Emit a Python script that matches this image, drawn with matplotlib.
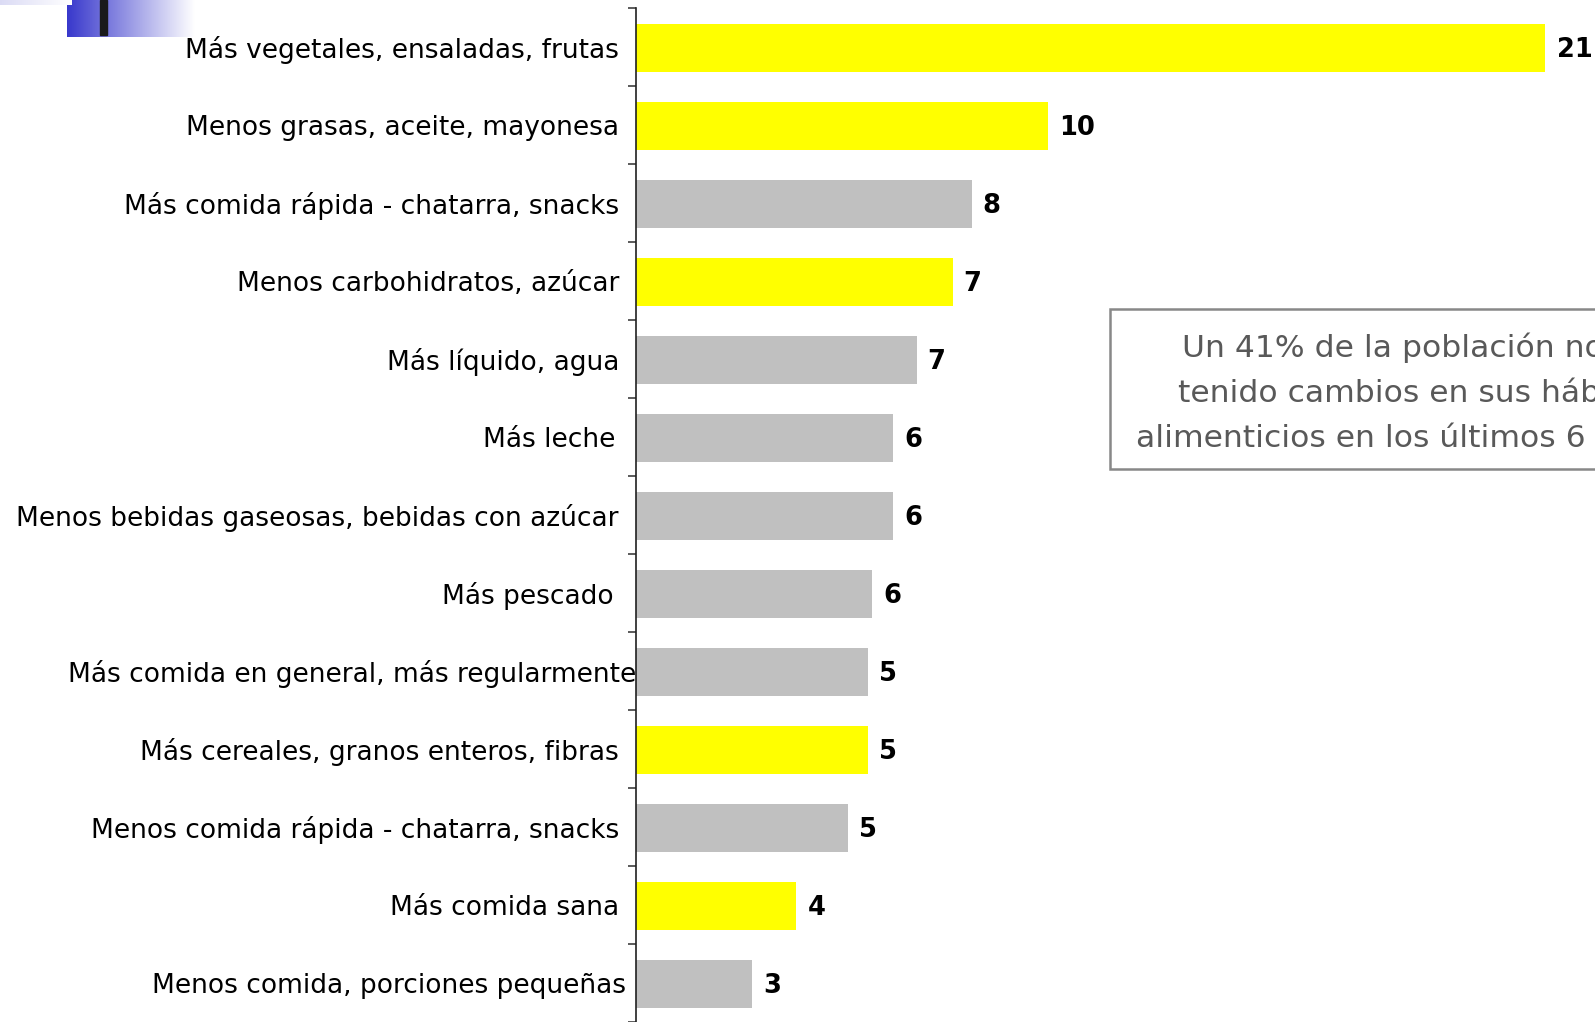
import numpy as np
import matplotlib
matplotlib.use('Agg')
import matplotlib.pyplot as plt
from matplotlib.patches import Rectangle
from matplotlib.transforms import blended_transform_factory, offset_copy

# datos (de arriba hacia abajo)
categorias = ['Más vegetales, ensaladas, frutas',
              'Menos grasas, aceite, mayonesa',
              'Más comida rápida - chatarra, snacks',
              'Menos carbohidratos, azúcar',
              'Más líquido, agua',
              'Más leche',
              'Menos bebidas gaseosas, bebidas con azúcar',
              'Más pescado',
              'Más comida en general, más regularmente',
              'Más cereales, granos enteros, fibras',
              'Menos comida rápida - chatarra, snacks',
              'Más comida sana',
              'Menos comida, porciones pequeñas']
valores = [21.4, 9.7, 7.9, 7.45, 6.6, 6.05, 6.05, 5.55, 5.45, 5.45, 4.98, 3.77, 2.73]
etiquetas = ['21', '10', '8', '7', '7', '6', '6', '6', '5', '5', '5', '4', '3']
destacados = [True, True, False, True, False, False, False, False, False, True, False, True, False]

texto_caja = ('Un 41% de la población no ha\n'
              'tenido cambios en sus hábitos\n'
              'alimenticios en los últimos 6 meses')

AMARILLO = '#FFFF00'
GRIS = '#C0C0C0'

plt.rcParams['font.family'] = ['DejaVu Sans']

W, H = 1595, 1022
fig = plt.figure(figsize=(W / 100, H / 100), dpi=100)

ax = fig.add_axes([636 / W, 0, 1 - 636 / W, 1 - 8 / H])
y = np.arange(len(categorias))
colores = [AMARILLO if d else GRIS for d in destacados]
ax.barh(y + 0.015, valores, height=0.61, color=colores, edgecolor='none')

ax.set_xlim(0, 959 / 42.5)
ax.set_ylim(len(categorias) - 0.55, -0.5)

for s in ['top', 'right', 'bottom']:
    ax.spines[s].set_visible(False)
ax.spines['left'].set_color('#202020')
ax.spines['left'].set_linewidth(1.2)
ax.set_xticks([])
ax.set_yticks(np.arange(-0.5, len(categorias), 1))
ax.set_yticklabels([])
ax.tick_params(axis='y', direction='out', length=5.5, width=1.2, color='#404040')

# etiquetas de categoria (separacion en px respecto al eje)
sep = {8: 0, 12: 10, 5: 21, 7: 22}
trans = blended_transform_factory(ax.transAxes, ax.transData)
for i, cat in enumerate(categorias):
    d = sep.get(i, 17)
    t = offset_copy(trans, fig=fig, x=-d, y=-3, units='dots')
    ax.text(0, i, cat, transform=t, ha='right', va='center',
            fontsize=19, color='black')

# valores
for i, (v, e) in enumerate(zip(valores, etiquetas)):
    ax.annotate(e, (v, i), xytext=(8, -2), textcoords='offset points',
                ha='left', va='center', fontsize=18.5, fontweight='bold',
                color='black')

# caja de texto
fig.patches.append(Rectangle((1110 / W, 1 - 469 / H), 600 / W, 160 / H,
                             transform=fig.transFigure, facecolor='white',
                             edgecolor='#888888', linewidth=1.8))
fig.text(1417 / W, 1 - 393 / H, texto_caja, ha='center', va='center',
         fontsize=22.6, color='#595959', linespacing=1.7)

# adorno superior izquierdo
grad = np.linspace(0, 1, 256)
azul = np.array([0.22, 0.22, 0.80])
img = azul[None, :] * (1 - grad[:, None]) + grad[:, None]
deco = fig.add_axes([67 / W, 1 - 37 / H, (195 - 67) / W, 37 / H])
deco.imshow(img[None, :, :], aspect='auto', extent=[0, 1, 0, 1])
deco.add_patch(Rectangle((33 / 128, 0.05), 7 / 128, 0.95, color='#1a1a1a'))
deco.axis('off')

lav = np.array([0.86, 0.86, 0.96])
img2 = lav[None, :] * (1 - grad[:, None]) + grad[:, None]
deco2 = fig.add_axes([0, 1 - 5 / H, 72 / W, 5 / H])
deco2.imshow(img2[None, :, :], aspect='auto', extent=[0, 1, 0, 1])
deco2.axis('off')

fig.savefig('out.png', dpi=100)
